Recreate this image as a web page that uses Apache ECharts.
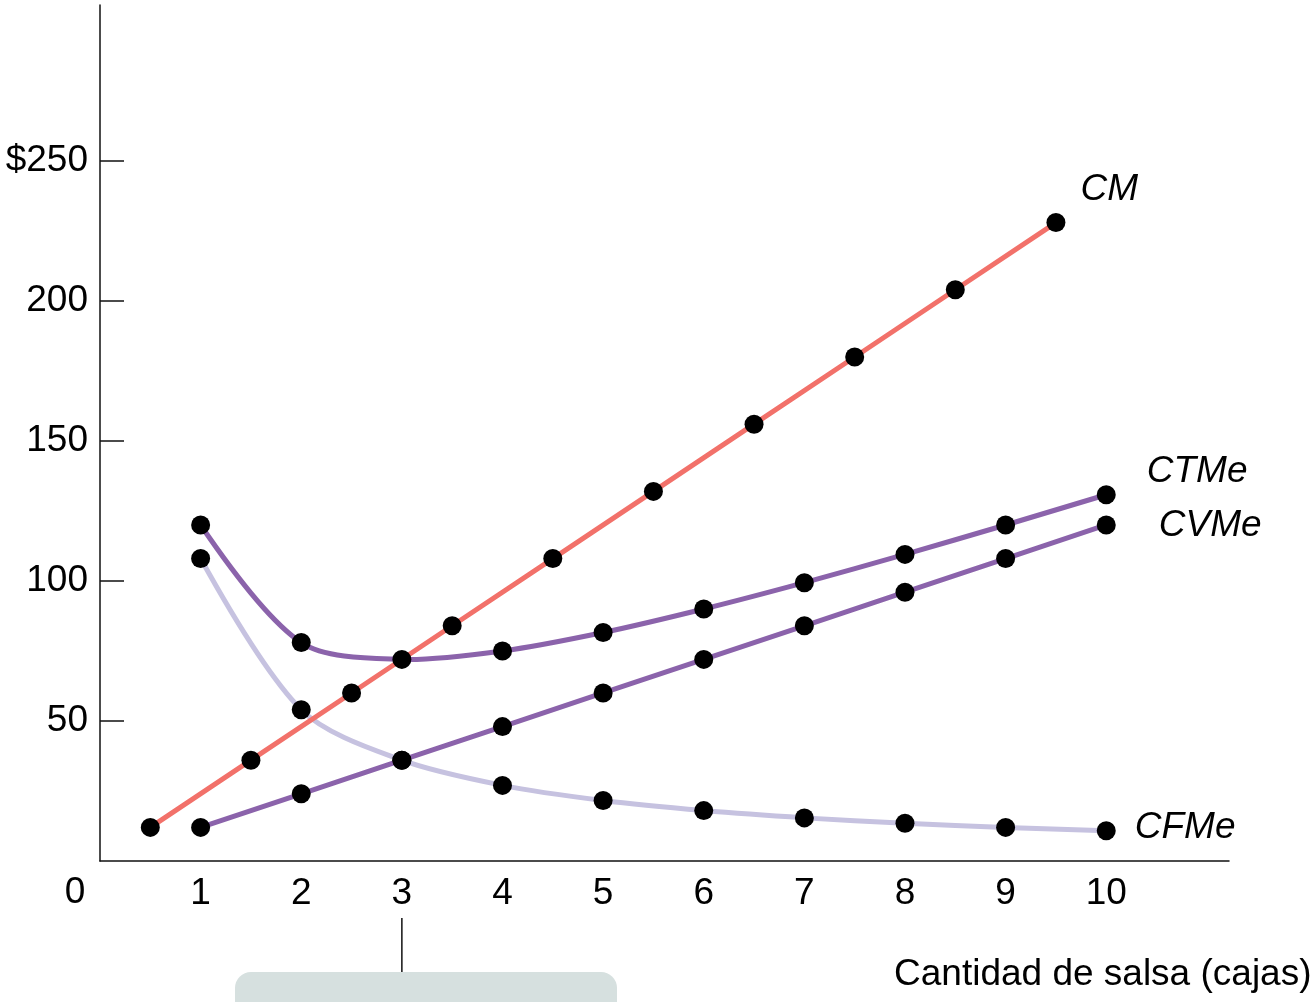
<!DOCTYPE html>
<html>
<head>
<meta charset="utf-8">
<title>Costos de salsa</title>
<script src="https://cdn.jsdelivr.net/npm/echarts@6/dist/echarts.min.js"></script>
<style>
  html, body { margin: 0; padding: 0; background: #ffffff; }
  #chart { width: 1316px; height: 1002px; }
</style>
</head>
<body>
<div id="chart"></div>
<script>
// Quantity of salsa (cases) and the cost curves per case
const quantity = [1, 2, 3, 4, 5, 6, 7, 8, 9, 10];
const mcQuantity = [0.5, 1.5, 2.5, 3.5, 4.5, 5.5, 6.5, 7.5, 8.5, 9.5];
const costoMarginal = [12, 36, 60, 84, 108, 132, 156, 180, 204, 228];           // CM
const costoTotalMedio = [120, 78, 72, 75, 81.6, 90, 99.4, 109.5, 120, 130.8];  // CTMe
const costoVariableMedio = [12, 24, 36, 48, 60, 72, 84, 96, 108, 120];         // CVMe
const costoFijoMedio = [108, 54, 36, 27, 21.6, 18, 15.4, 13.5, 12, 10.8];      // CFMe

// Tick labels
const xTicks = [1, 2, 3, 4, 5, 6, 7, 8, 9, 10];
const yTicks = [50, 100, 150, 200, 250];
const originLabel = '0';
const xAxisTitle = 'Cantidad de salsa (cajas)';
const markedQuantity = 3;

const FONT = 'Liberation Sans, Arial, Helvetica, sans-serif';
const FONT_SIZE = 37;
const TENSION = 0.75; // scale of the interior tangents of the smooth curves
const pairs = (xs, ys) => xs.map((x, i) => [x, ys[i]]);

const chart = echarts.init(document.getElementById('chart'), null, { renderer: 'canvas' });

// Straight cost line
function straight(xs, ys, color, z) {
  return {
    type: 'line',
    data: pairs(xs, ys),
    showSymbol: false,
    z: z,
    lineStyle: { color: color, width: 5 },
    emphasis: { disabled: true }
  };
}

// Smooth cost curve: cardinal cubic spline through the data points (pixel space via the axes)
function smoothCurve(xs, ys, color, z) {
  const data = pairs(xs, ys);
  return {
    type: 'custom',
    coordinateSystem: 'cartesian2d',
    data: data,
    encode: { x: 0, y: 1 },
    z: z,
    silent: true,
    renderItem: function (params, api) {
      if (params.dataIndex !== 0) return null;
      const p = data.map(d => api.coord(d));
      const n = p.length;
      const m = p.map((pt, i) => {
        if (i === 0 || i === n - 1) return null;
        return [TENSION * (p[i + 1][0] - p[i - 1][0]) / 2,
                TENSION * (p[i + 1][1] - p[i - 1][1]) / 2];
      });
      m[0] = [2 * (p[1][0] - p[0][0]) - m[1][0], 2 * (p[1][1] - p[0][1]) - m[1][1]];
      m[n - 1] = [2 * (p[n - 1][0] - p[n - 2][0]) - m[n - 2][0],
                  2 * (p[n - 1][1] - p[n - 2][1]) - m[n - 2][1]];
      const children = [];
      for (let i = 0; i < n - 1; i++) {
        children.push({
          type: 'bezierCurve',
          shape: {
            x1: p[i][0], y1: p[i][1],
            cpx1: p[i][0] + m[i][0] / 3, cpy1: p[i][1] + m[i][1] / 3,
            cpx2: p[i + 1][0] - m[i + 1][0] / 3, cpy2: p[i + 1][1] - m[i + 1][1] / 3,
            x2: p[i + 1][0], y2: p[i + 1][1]
          },
          style: { stroke: color, lineWidth: 5, fill: null, lineCap: 'round' }
        });
      }
      return { type: 'group', children: children };
    }
  };
}

// Black markers, with the curve's name beside the last one
function dots(name, xs, ys, offset) {
  const data = pairs(xs, ys).map((d, i) => {
    if (i !== xs.length - 1) return d;
    return {
      value: d,
      label: {
        show: true,
        position: 'right',
        distance: 5,
        formatter: name,
        color: '#000',
        fontFamily: FONT,
        fontStyle: 'italic',
        fontSize: FONT_SIZE,
        offset: offset
      }
    };
  });
  return {
    type: 'scatter',
    data: data,
    symbol: 'circle',
    symbolSize: 19,
    itemStyle: { color: '#000', opacity: 1 },
    z: 10,
    emphasis: { disabled: true }
  };
}

const option = {
  animation: false,
  backgroundColor: '#ffffff',
  grid: { left: 100, top: 5, width: 1129, height: 856 },
  xAxis: {
    type: 'value',
    min: 0,
    max: 11.22,
    axisLine: { show: true, onZero: false, lineStyle: { color: '#111', width: 1.5 } },
    axisTick: { show: false },
    splitLine: { show: false },
    axisLabel: {
      customValues: xTicks,
      color: '#000',
      fontFamily: FONT,
      fontSize: FONT_SIZE,
      margin: 14
    }
  },
  yAxis: {
    type: 'value',
    min: 0,
    max: 305.7,
    axisLine: { show: true, onZero: false, lineStyle: { color: '#111', width: 1.5 } },
    axisTick: {
      show: true,
      inside: true,
      length: 24,
      customValues: yTicks,
      lineStyle: { color: '#111', width: 1.5 }
    },
    splitLine: { show: false },
    axisLabel: {
      customValues: yTicks,
      color: '#000',
      fontFamily: FONT,
      fontSize: FONT_SIZE,
      margin: 12,
      formatter: v => (v === 250 ? '$' + v : String(v))
    }
  },
  series: [
    smoothCurve(quantity, costoFijoMedio, '#c6c2e0', 2),
    straight(quantity, costoVariableMedio, '#8b63ab', 3),
    smoothCurve(quantity, costoTotalMedio, '#8b63ab', 3),
    straight(mcQuantity, costoMarginal, '#f2716a', 4),
    dots('CFMe', quantity, costoFijoMedio, [14, -3]),
    dots('CVMe', quantity, costoVariableMedio, [38, 1]),
    dots('CTMe', quantity, costoTotalMedio, [26, -23]),
    dots('CM', mcQuantity, costoMarginal, [10, -33])
  ]
};

chart.setOption(option);

// Origin label, axis title and the pointer under quantity 3
const origin = chart.convertToPixel({ gridIndex: 0 }, [0, 0]);
const marked = chart.convertToPixel({ gridIndex: 0 }, [markedQuantity, 0]);
chart.setOption({
  graphic: [
    {
      type: 'text',
      x: origin[0] - 25,
      y: origin[1] + 32,
      style: {
        text: originLabel,
        fill: '#000',
        font: FONT_SIZE + 'px ' + FONT,
        align: 'center',
        verticalAlign: 'middle'
      }
    },
    {
      type: 'text',
      x: 894,
      y: 975,
      style: {
        text: xAxisTitle,
        fill: '#000',
        font: FONT_SIZE + 'px ' + FONT,
        align: 'left',
        verticalAlign: 'middle'
      }
    },
    {
      type: 'line',
      shape: { x1: marked[0], y1: 918, x2: marked[0], y2: 972 },
      style: { stroke: '#111', lineWidth: 1.5 }
    },
    {
      type: 'rect',
      shape: { x: 235, y: 972, width: 382, height: 60, r: 16 },
      style: { fill: '#d6e0df' },
      z: 0
    }
  ]
});
</script>
</body>
</html>
